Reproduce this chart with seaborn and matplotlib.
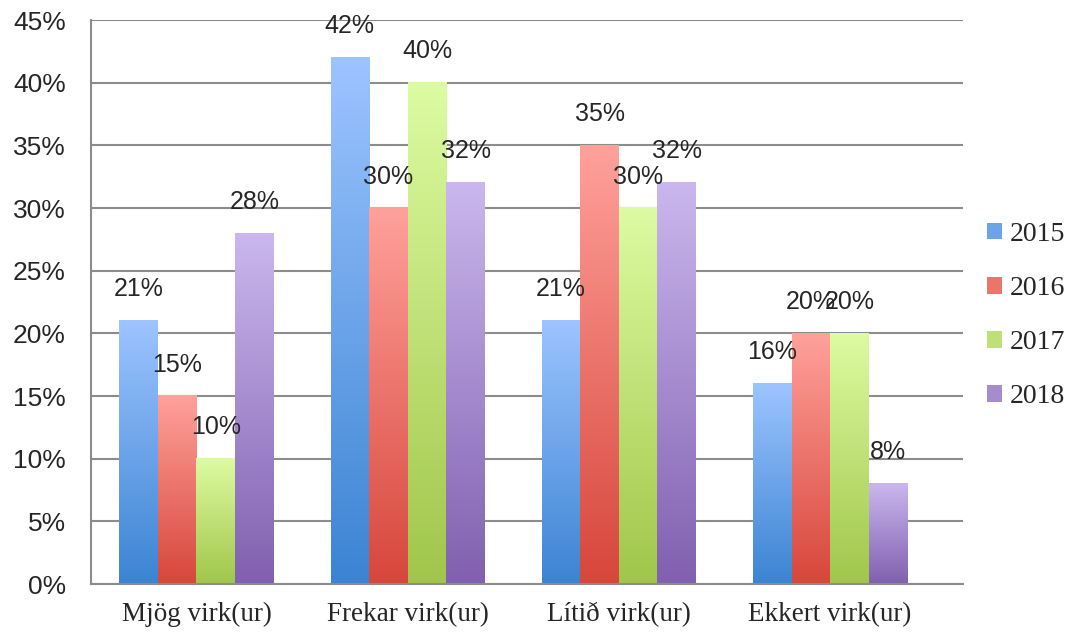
import numpy as np
import pandas as pd
import matplotlib
matplotlib.use("Agg")
import matplotlib.pyplot as plt
import matplotlib.colors as mcolors
from matplotlib.patches import Patch
import seaborn as sns

categories = ["Mjög virk(ur)", "Frekar virk(ur)", "Lítið virk(ur)", "Ekkert virk(ur)"]
years = ["2015", "2016", "2017", "2018"]
v2015 = [21, 42, 21, 16]
v2016 = [15, 30, 35, 20]
v2017 = [10, 40, 30, 20]
v2018 = [28, 32, 32, 8]

# gradient colours, top (light) -> bottom (dark)
tops = ["#9DC4FF", "#FFA19B", "#DDFBA2", "#CBB7EE"]
bottoms = ["#3B84D3", "#D7463B", "#A1C64A", "#8060AF"]

rows = []
for yr, vals in zip(years, [v2015, v2016, v2017, v2018]):
    for c, v in zip(categories, vals):
        rows.append({"cat": c, "year": yr, "val": v})
df = pd.DataFrame(rows)

sns.set_style("white")
fig = plt.figure(figsize=(10.69, 6.35), dpi=100)
ax = fig.add_axes([0.085, 0.0803, 0.816, 0.8882])

mids = [mcolors.to_hex((np.array(mcolors.to_rgb(t)) + np.array(mcolors.to_rgb(b))) / 2)
        for t, b in zip(tops, bottoms)]
sns.barplot(data=df, x="cat", y="val", hue="year", palette=mids, width=0.73,
            ax=ax, legend=False, saturation=1)

for i, cont in enumerate(ax.containers):
    cmap = mcolors.LinearSegmentedColormap.from_list("g", [bottoms[i], tops[i]])
    grad = np.linspace(0, 1, 256).reshape(-1, 1)
    for p in cont.patches:
        x0, y0 = p.get_x(), p.get_y()
        w, h = p.get_width(), p.get_height()
        ax.imshow(grad, cmap=cmap, origin="lower", aspect="auto",
                  extent=[x0, x0 + w, y0, y0 + h], zorder=2)
        p.set_alpha(0)
    ax.bar_label(cont, labels=[f"{int(round(v))}%" for v in cont.datavalues],
                 padding=14, fontsize=18, family="Liberation Sans", zorder=5)

ax.set_xlim(-0.5, 3.63)
ax.set_ylim(0, 45)
ax.set_yticks(range(0, 46, 5))
ax.set_yticklabels([f"{t}%" for t in range(0, 46, 5)], fontsize=19, family="Liberation Sans")
ax.set_xticks(range(4))
ax.set_xticklabels(categories, fontsize=19.5, family="Liberation Serif")
ax.tick_params(axis="both", length=0)
ax.tick_params(axis="x", pad=13)
ax.tick_params(axis="y", pad=18)
ax.set_xlabel("")
ax.set_ylabel("")

ax.yaxis.grid(True, color="#8c8c8c", linewidth=1.5)
ax.set_axisbelow(True)
for s in ["top", "right"]:
    ax.spines[s].set_visible(False)
for s in ["left", "bottom"]:
    ax.spines[s].set_color("#8c8c8c")
    ax.spines[s].set_linewidth(1.5)

handles = [Patch(facecolor=m, edgecolor="none") for m in mids]
fig.legend(handles, years, loc="center left", bbox_to_anchor=(0.9, 0.503),
           frameon=False, prop={"family": "Liberation Serif", "size": 20},
           handlelength=0.55, handleheight=0.55, handletextpad=0.25, labelspacing=1.05)

fig.savefig("out.png", dpi=100)
